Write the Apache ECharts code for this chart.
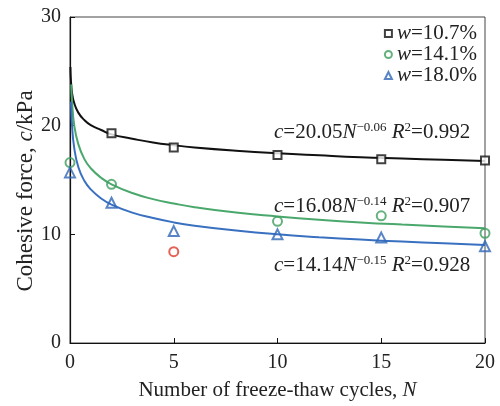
<!DOCTYPE html>
<html><head><meta charset="utf-8">
<script src="https://cdn.jsdelivr.net/npm/echarts@6/dist/echarts.min.js"></script>
<style>html,body{margin:0;padding:0;background:#fff}#c{width:500px;height:406px}</style>
</head><body><div id="c"></div>
<script>
// Measured points
const cycles = [0, 2, 5, 10, 15, 20];
const w107 = [null, 19.3, 18.0, 17.3, 16.9, 16.8];
const w141 = [16.6, 14.6, null, 11.2, 11.7, 10.1];
const w180 = [15.7, 12.9, 10.3, 10.0, 9.7, 8.9];
const outlierN = [5];
const outlierC = [8.4];
// Fitted curves
const fitN107 = [0.02, 0.05, 0.1, 0.2, 0.4, 0.7, 1, 1.5, 2, 3, 4, 5, 6, 8, 10, 12, 14, 16, 18, 20];
const fitC107 = [25.4, 24.0, 23.0, 22.1, 21.2, 20.5, 20.05, 19.6, 19.2, 18.8, 18.45, 18.2, 18.0, 17.7, 17.46, 17.27, 17.1, 16.98, 16.86, 16.75];
const fitN141 = [0.06, 0.1, 0.2, 0.4, 0.7, 1, 1.5, 2, 3, 4, 5, 6, 8, 10, 12, 14, 16, 18, 20];
const fitC141 = [23.8, 22.2, 20.1, 18.3, 16.9, 16.08, 15.2, 14.6, 13.8, 13.24, 12.84, 12.5, 12.0, 11.65, 11.35, 11.1, 10.9, 10.73, 10.57];
const fitN180 = [0.05, 0.1, 0.2, 0.4, 0.7, 1, 1.5, 2, 3, 4, 5, 6, 8, 10, 12, 14, 16, 18, 20];
const fitC180 = [22.2, 20.0, 18.0, 16.2, 14.9, 14.14, 13.3, 12.74, 12.0, 11.5, 11.1, 10.8, 10.35, 10.0, 9.74, 9.52, 9.33, 9.17, 9.02];
const legendNames = ['w=10.7%', 'w=14.1%', 'w=18.0%'];
const xTicks = [0, 5, 10, 15, 20];
const yTicks = [0, 10, 20, 30];

const FONT = 'Liberation Serif';
const TXT = '#222';
const cBlack = '#111111', cGreen = '#3e9e5e', cBlue = '#2f67b8', cRed = '#e0392b';
const lGreen = '#4aa86c', lBlue = '#3a70c0';

function pairs(xs, ys) { return xs.map((x, i) => [x, ys[i]]).filter(p => p[1] !== null); }

const chart = echarts.init(document.getElementById('c'), null, {renderer: 'canvas'});
const rich = {
  i: {fontFamily: FONT, fontStyle: 'italic', fontSize: 21, color: TXT},
  n: {fontFamily: FONT, fontSize: 21, color: TXT},
  s: {fontFamily: FONT, fontSize: 13, color: TXT, verticalAlign: 'top', lineHeight: 22}
};
function ann(x, y, a, e, r) {
  return {type: 'text', left: x, top: y, style: {
    text: `{i|c}{n|=${a}}{i|N}{s|−${e}} {i|R}{s|2}{n|=${r}}`,
    rich: rich, font: '21px ' + FONT, fill: TXT}};
}
const italicRich = {i: {fontFamily: FONT, fontStyle: 'italic', fontSize: 21, color: TXT}, n: {fontFamily: FONT, fontSize: 21, color: TXT}};
const yRich = {i: {fontFamily: FONT, fontStyle: 'italic', fontSize: 23, color: TXT}, n: {fontFamily: FONT, fontSize: 23, color: TXT}};
chart.setOption({
  animation: false,
  textStyle: {fontFamily: FONT},
  grid: {left: 70, right: 15, top: 17, bottom: 58, show: true, borderColor: '#444', borderWidth: 1},
  xAxis: {type: 'value', min: 0, max: 20, interval: 5,
    name: '{n|Number of freeze-thaw cycles, }{i|N}', nameLocation: 'middle', nameGap: 37,
    nameTextStyle: {fontFamily: FONT, fontSize: 21, color: TXT, rich: italicRich},
    axisLine: {lineStyle: {color: '#111', width: 1.2}},
    axisTick: {inside: true, length: 5, lineStyle: {color: '#111'}},
    axisLabel: {fontFamily: FONT, fontSize: 20, color: TXT, margin: 10},
    splitLine: {show: false}},
  yAxis: {type: 'value', min: 0, max: 30, interval: 10,
    axisLine: {show: true, lineStyle: {color: '#111', width: 1.2}},
    axisTick: {show: true, inside: true, length: 5, lineStyle: {color: '#111'}},
    axisLabel: {fontFamily: FONT, fontSize: 20, color: TXT, margin: 9},
    splitLine: {show: false}},
  legend: {
    right: 18, top: 18, orient: 'vertical', itemWidth: 7, itemHeight: 7, itemGap: 0,
    data: [
      {name: legendNames[0], icon: 'rect', itemStyle: {color: 'transparent', borderColor: cBlack, borderWidth: 2}},
      {name: legendNames[1], icon: 'circle', itemStyle: {color: 'transparent', borderColor: cGreen, borderWidth: 2}},
      {name: legendNames[2], icon: 'triangle', itemStyle: {color: 'transparent', borderColor: cBlue, borderWidth: 2}}
    ],
    formatter: n => '{i|w}{n|' + n.slice(1) + '}',
    textStyle: {lineHeight: 20, rich: {i: {fontFamily: FONT, fontStyle: 'italic', fontSize: 21, color: TXT, lineHeight: 20}, n: {fontFamily: FONT, fontSize: 21, color: TXT, lineHeight: 20}}}
  },
  series: [
    {type: 'line', data: pairs(fitN107, fitC107), smooth: true, showSymbol: false, lineStyle: {color: cBlack, width: 2}, silent: true, z: 1},
    {type: 'line', data: pairs(fitN141, fitC141), smooth: true, showSymbol: false, lineStyle: {color: lGreen, width: 2}, silent: true, z: 1},
    {type: 'line', data: pairs(fitN180, fitC180), smooth: true, showSymbol: false, lineStyle: {color: lBlue, width: 2}, silent: true, z: 1},
    {type: 'scatter', name: legendNames[0], data: pairs(cycles, w107), symbol: 'rect', symbolSize: 8,
      itemStyle: {color: '#fff', borderColor: cBlack, borderWidth: 2}, z: 3},
    {type: 'scatter', name: legendNames[1], data: pairs(cycles, w141), symbol: 'circle', symbolSize: 9,
      itemStyle: {color: 'transparent', borderColor: cGreen, borderWidth: 2}, z: 3},
    {type: 'scatter', name: legendNames[2], data: pairs(cycles, w180), symbol: 'triangle', symbolSize: 10,
      itemStyle: {color: 'transparent', borderColor: cBlue, borderWidth: 2}, z: 3},
    {type: 'scatter', data: pairs(outlierN, outlierC), symbol: 'circle', symbolSize: 9,
      itemStyle: {color: 'transparent', borderColor: cRed, borderWidth: 2}, z: 3}
  ],
  graphic: [
    {type: 'text', x: 26, y: 191, rotation: Math.PI / 2, style: {
      text: '{n|Cohesive force, }{i|c}{n|/kPa}', rich: yRich, align: 'center', verticalAlign: 'middle', font: '23px ' + FONT, fill: TXT}},
    ann(274, 121, '20.05', '0.06', '0.992'),
    ann(274, 195, '16.08', '0.14', '0.907'),
    ann(274, 254, '14.14', '0.15', '0.928')
  ]
});
</script></body></html>
